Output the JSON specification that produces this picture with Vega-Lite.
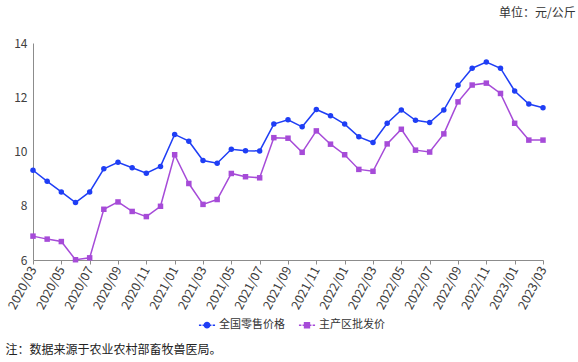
{
  "$schema": "https://vega.github.io/schema/vega-lite/v6.json",
  "autosize": "none",
  "width": 510,
  "height": 217,
  "padding": {"left": 33, "top": 43, "right": 35, "bottom": 102},
  "background": "white",
  "config": {
    "font": "Noto Sans CJK SC",
    "view": {"stroke": null},
    "axis": {"grid": false, "labelColor": "#404040", "domainColor": "#8c8c8c", "tickColor": "#8c8c8c"}
  },
  "title": {
    "text": "单位：元/公斤",
    "anchor": "end",
    "orient": "top",
    "offset": 17,
    "dx": 27,
    "fontSize": 12,
    "fontWeight": "normal",
    "color": "#333333",
    "font": "Noto Sans CJK SC"
  },
  "data": {
    "values": [
      {"m": "2020/03", "s": "全国零售价格", "v": 9.31},
      {"m": "2020/04", "s": "全国零售价格", "v": 8.90},
      {"m": "2020/05", "s": "全国零售价格", "v": 8.51},
      {"m": "2020/06", "s": "全国零售价格", "v": 8.12},
      {"m": "2020/07", "s": "全国零售价格", "v": 8.51},
      {"m": "2020/08", "s": "全国零售价格", "v": 9.36},
      {"m": "2020/09", "s": "全国零售价格", "v": 9.60},
      {"m": "2020/10", "s": "全国零售价格", "v": 9.40},
      {"m": "2020/11", "s": "全国零售价格", "v": 9.20},
      {"m": "2020/12", "s": "全国零售价格", "v": 9.45},
      {"m": "2021/01", "s": "全国零售价格", "v": 10.63},
      {"m": "2021/02", "s": "全国零售价格", "v": 10.38},
      {"m": "2021/03", "s": "全国零售价格", "v": 9.67},
      {"m": "2021/04", "s": "全国零售价格", "v": 9.57},
      {"m": "2021/05", "s": "全国零售价格", "v": 10.08},
      {"m": "2021/06", "s": "全国零售价格", "v": 10.03},
      {"m": "2021/07", "s": "全国零售价格", "v": 10.02},
      {"m": "2021/08", "s": "全国零售价格", "v": 11.01},
      {"m": "2021/09", "s": "全国零售价格", "v": 11.17},
      {"m": "2021/10", "s": "全国零售价格", "v": 10.91},
      {"m": "2021/11", "s": "全国零售价格", "v": 11.55},
      {"m": "2021/12", "s": "全国零售价格", "v": 11.32},
      {"m": "2022/01", "s": "全国零售价格", "v": 11.01},
      {"m": "2022/02", "s": "全国零售价格", "v": 10.54},
      {"m": "2022/03", "s": "全国零售价格", "v": 10.33},
      {"m": "2022/04", "s": "全国零售价格", "v": 11.04},
      {"m": "2022/05", "s": "全国零售价格", "v": 11.53},
      {"m": "2022/06", "s": "全国零售价格", "v": 11.15},
      {"m": "2022/07", "s": "全国零售价格", "v": 11.07},
      {"m": "2022/08", "s": "全国零售价格", "v": 11.53},
      {"m": "2022/09", "s": "全国零售价格", "v": 12.44},
      {"m": "2022/10", "s": "全国零售价格", "v": 13.07},
      {"m": "2022/11", "s": "全国零售价格", "v": 13.30},
      {"m": "2022/12", "s": "全国零售价格", "v": 13.07},
      {"m": "2023/01", "s": "全国零售价格", "v": 12.23},
      {"m": "2023/02", "s": "全国零售价格", "v": 11.75},
      {"m": "2023/03", "s": "全国零售价格", "v": 11.61},
      {"m": "2020/03", "s": "主产区批发价", "v": 6.88},
      {"m": "2020/04", "s": "主产区批发价", "v": 6.77},
      {"m": "2020/05", "s": "主产区批发价", "v": 6.68},
      {"m": "2020/06", "s": "主产区批发价", "v": 6.01},
      {"m": "2020/07", "s": "主产区批发价", "v": 6.08},
      {"m": "2020/08", "s": "主产区批发价", "v": 7.87},
      {"m": "2020/09", "s": "主产区批发价", "v": 8.14},
      {"m": "2020/10", "s": "主产区批发价", "v": 7.79},
      {"m": "2020/11", "s": "主产区批发价", "v": 7.60},
      {"m": "2020/12", "s": "主产区批发价", "v": 7.98},
      {"m": "2021/01", "s": "主产区批发价", "v": 9.88},
      {"m": "2021/02", "s": "主产区批发价", "v": 8.82},
      {"m": "2021/03", "s": "主产区批发价", "v": 8.05},
      {"m": "2021/04", "s": "主产区批发价", "v": 8.23},
      {"m": "2021/05", "s": "主产区批发价", "v": 9.19},
      {"m": "2021/06", "s": "主产区批发价", "v": 9.07},
      {"m": "2021/07", "s": "主产区批发价", "v": 9.03},
      {"m": "2021/08", "s": "主产区批发价", "v": 10.51},
      {"m": "2021/09", "s": "主产区批发价", "v": 10.49},
      {"m": "2021/10", "s": "主产区批发价", "v": 9.97},
      {"m": "2021/11", "s": "主产区批发价", "v": 10.76},
      {"m": "2021/12", "s": "主产区批发价", "v": 10.27},
      {"m": "2022/01", "s": "主产区批发价", "v": 9.88},
      {"m": "2022/02", "s": "主产区批发价", "v": 9.34},
      {"m": "2022/03", "s": "主产区批发价", "v": 9.27},
      {"m": "2022/04", "s": "主产区批发价", "v": 10.28},
      {"m": "2022/05", "s": "主产区批发价", "v": 10.82},
      {"m": "2022/06", "s": "主产区批发价", "v": 10.05},
      {"m": "2022/07", "s": "主产区批发价", "v": 9.98},
      {"m": "2022/08", "s": "主产区批发价", "v": 10.65},
      {"m": "2022/09", "s": "主产区批发价", "v": 11.83},
      {"m": "2022/10", "s": "主产区批发价", "v": 12.45},
      {"m": "2022/11", "s": "主产区批发价", "v": 12.52},
      {"m": "2022/12", "s": "主产区批发价", "v": 12.14},
      {"m": "2023/01", "s": "主产区批发价", "v": 11.04},
      {"m": "2023/02", "s": "主产区批发价", "v": 10.42},
      {"m": "2023/03", "s": "主产区批发价", "v": 10.42}
    ]
  },
  "encoding": {
    "x": {
      "field": "m",
      "type": "ordinal",
      "sort": null,
      "scale": {"type": "point", "padding": 0},
      "axis": {
        "values": ["2020/03","2020/05","2020/07","2020/09","2020/11","2021/01","2021/03","2021/05","2021/07","2021/09","2021/11","2022/01","2022/03","2022/05","2022/07","2022/09","2022/11","2023/01","2023/03"],
        "labelAngle": -62,
        "labelFontSize": 12.5,
        "labelPadding": 3,
        "tickSize": 4,
        "title": "注：数据来源于农业农村部畜牧兽医局。",
        "titleX": -28,
        "titleY": 89,
        "titleAlign": "left",
        "titleAnchor": "start",
        "titleAngle": 0,
        "titleBaseline": "middle",
        "titleFontSize": 12,
        "titleFontWeight": "normal",
        "titleColor": "#222222"
      }
    },
    "y": {
      "field": "v",
      "type": "quantitative",
      "scale": {"domain": [6, 14]},
      "axis": {
        "values": [6, 8, 10, 12, 14],
        "title": null,
        "ticks": false,
        "labelFontSize": 12,
        "labelPadding": 6
      }
    },
    "color": {
      "field": "s",
      "type": "nominal",
      "sort": ["全国零售价格", "主产区批发价"],
      "scale": {"domain": ["全国零售价格", "主产区批发价"], "range": ["#1f3ef5", "#a64bd8"]},
      "legend": {
        "title": null,
        "orient": "none",
        "direction": "horizontal",
        "legendX": 165,
        "legendY": 273,
        "labelFontSize": 11,
        "labelColor": "#333333",
        "symbolSize": 260,
        "columnPadding": 10,
        "labelOffset": 3,
        "encode": {
          "symbols": {
            "update": {
              "shape": {"signal": "datum.value === '全国零售价格' ? 'M-1,0H-0.7M-0.55,0H-0.35M0.35,0H0.55M0.7,0H1M-0.33,0A0.33,0.33 0 1,1 0.33,0A0.33,0.33 0 1,1 -0.33,0Z' : 'M-1,0H-0.7M-0.55,0H-0.35M0.35,0H0.55M0.7,0H1M-0.3,-0.3H0.3V0.3H-0.3Z'"},
              "stroke": {"signal": "datum.value === '全国零售价格' ? '#1f3ef5' : '#a64bd8'"},
              "strokeWidth": {"value": 1.5},
              "fill": {"signal": "datum.value === '全国零售价格' ? '#1f3ef5' : '#a64bd8'"},
              "opacity": {"value": 1}
            }
          }
        }
      }
    }
  },
  "layer": [
    {"mark": {"type": "line", "strokeWidth": 1.5}},
    {
      "transform": [{"filter": "datum.s === '全国零售价格'"}],
      "mark": {"type": "point", "shape": "circle", "filled": true, "size": 30, "opacity": 1}
    },
    {
      "transform": [{"filter": "datum.s === '主产区批发价'"}],
      "mark": {"type": "point", "shape": "square", "filled": true, "size": 30, "opacity": 1}
    }
  ]
}
